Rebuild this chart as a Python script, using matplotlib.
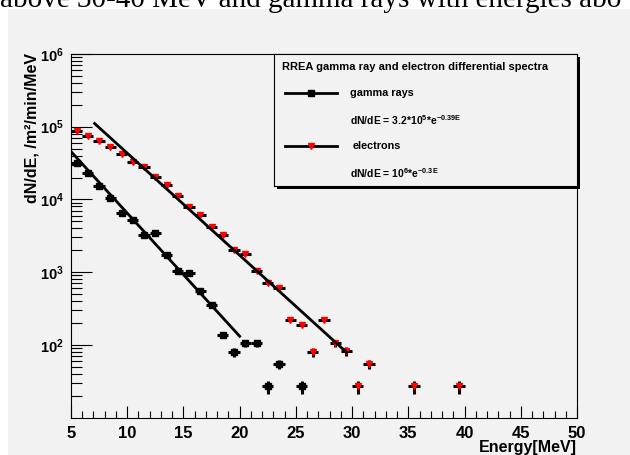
import numpy as np
import matplotlib
matplotlib.use("Agg")
import matplotlib.pyplot as plt
from matplotlib.patches import Rectangle
from matplotlib.ticker import FixedLocator, LogLocator, NullFormatter

plt.rcParams['font.family'] = ['Liberation Sans', 'DejaVu Sans']
plt.rcParams['font.weight'] = 'bold'
plt.rcParams['mathtext.fontset'] = 'custom'
plt.rcParams['mathtext.rm'] = 'Liberation Sans:bold'
plt.rcParams['mathtext.it'] = 'Liberation Sans:bold'
plt.rcParams['mathtext.bf'] = 'Liberation Sans:bold'
plt.rcParams['mathtext.default'] = 'bf'

# gamma ray spectrum (MeV, counts /m2/min/MeV)
gamma_E = [5.5, 6.5, 7.5, 8.5, 9.5, 10.5, 11.5, 12.5, 13.5, 14.5,
           15.5, 16.5, 17.5, 18.5, 19.5, 20.5, 21.5, 22.5, 23.5, 25.5]
gamma_N = [31500, 22900, 15300, 10600, 6460, 5220, 3220, 3430, 1700, 1050,
           968, 541, 349, 136, 80, 106, 106, 26.7, 54.3, 26.7]
gamma_err = [0, 0, 0, 0, 0, 0, 0, 0, 0, 0,
             0, 0, 0, 13, 11, 12, 12, 5.5, 8, 5.5]

# electron spectrum
elec_E = [5.5, 6.5, 7.5, 8.5, 9.5, 10.5, 11.5, 12.5, 13.5, 14.5,
          15.5, 16.5, 17.5, 18.5, 19.5, 20.5, 21.5, 22.5, 23.5, 24.5,
          25.5, 26.5, 27.5, 28.5, 29.5, 30.5, 31.5, 35.5, 39.5]
elec_N = [87500, 74700, 63700, 53200, 42200, 33100, 28200, 20600, 15700, 11300,
          7960, 6070, 4230, 3250, 2010, 1750, 1050, 705, 601, 216,
          188, 79.4, 216, 105, 81, 26.7, 54.3, 26.7, 26.7]
elec_err = [0, 0, 0, 0, 0, 0, 0, 0, 0, 0,
            0, 0, 0, 0, 0, 0, 0, 0, 0, 0,
            0, 11, 0, 12, 11, 5.5, 8, 5.5, 5.5]

# exponential fits: A * exp(-k E) over [E0, E1]
gamma_fit = (3.2e5, 0.39, 5.0, 20.0)
elec_fit = (1.1e6, 0.3235, 7.1, 29.5)

bg = '#f2f2f2'
W, H = 630, 455
fig = plt.figure(figsize=(6.3, 4.55), dpi=100, facecolor='white')
fig.patches.append(Rectangle((8 / W, 0), 1, 1 - 9 / H, transform=fig.transFigure,
                             facecolor=bg, edgecolor='none', zorder=-10))
fig.text(0, 1 - 7 / H, 'above 30-40 MeV and gamma rays with energies abo',
         family='Liberation Serif', weight='normal', size=21, va='baseline')

ax = fig.add_axes([71 / W, 1 - 417.5 / H, 506 / W, 363.5 / H])
ax.set_facecolor(bg)
ax.set_yscale('log')
ax.set_xlim(5, 50)
ax.set_ylim(10, 1e6)

for E, N, err, col, mk in [(gamma_E, gamma_N, gamma_err, 'black', 's'),
                            (elec_E, elec_N, elec_err, 'red', 'v')]:
    ax.errorbar(E, N, xerr=0.5, yerr=err, fmt=mk, color=col, ms=5,
                mec=col, ecolor='black', elinewidth=2.2, capsize=0, zorder=3)

for A, k, e0, e1 in [gamma_fit, elec_fit]:
    xs = np.linspace(e0, e1, 50)
    ax.plot(xs, A * np.exp(-k * xs), color='black', lw=2, zorder=4)

ax.xaxis.set_major_locator(FixedLocator(range(5, 51, 5)))
ax.xaxis.set_minor_locator(FixedLocator(range(5, 51)))
ax.yaxis.set_minor_locator(LogLocator(base=10, subs=np.arange(2, 10), numticks=50))
ax.yaxis.set_minor_formatter(NullFormatter())
ax.set_yticks([1e2, 1e3, 1e4, 1e5, 1e6])
ax.set_yticklabels([r'$10^{2}$', r'$10^{3}$', r'$10^{4}$', r'$10^{5}$', r'$10^{6}$'])
ax.tick_params(axis='x', which='major', direction='in', length=9, width=0.8,
               labelsize=12, pad=6)
ax.tick_params(axis='x', which='minor', direction='in', length=5, width=0.8)
ax.tick_params(axis='y', which='major', direction='in', length=15, width=0.8,
               labelsize=10.5, pad=5)
ax.tick_params(axis='y', which='minor', direction='in', length=8, width=0.8)
for s in ax.spines.values():
    s.set_linewidth(0.8)

fig.text(32 / W, 1 - 53 / H, 'dN/dE, /m²/min/MeV', rotation=90, ha='center',
         va='top', size=11.5)
fig.text(577 / W, 1 - 452 / H, 'Energy[MeV]', ha='right', va='baseline', size=11.5)

# legend box with ROOT-style shadow
fig.patches.append(Rectangle((277 / W, 1 - 188.5 / H), 303 / W, 132 / H,
                             transform=fig.transFigure, facecolor='black',
                             edgecolor='none', zorder=4))
lg = fig.add_axes([274 / W, 1 - 186 / H, 303 / W, 132 / H], zorder=5)
lg.set_facecolor(bg)
lg.set_xticks([])
lg.set_yticks([])
lg.set_xlim(0, 1)
lg.set_ylim(0, 1)
for s in lg.spines.values():
    s.set_linewidth(0.8)
lg.text(0.025, 0.904, 'RREA gamma ray and electron differential spectra',
        size=8, va='center')
lg.plot([0.036, 0.208], [0.707, 0.707], color='black', lw=2)
lg.plot([0.122], [0.707], 's', color='black', ms=5)
lg.text(0.251, 0.707, 'gamma rays', size=7.8, va='center')
lg.text(0.251, 0.5, r'dN/dE = 3.2*10$^{5}$*e$^{-0.39E}$', size=7.5, va='center')
lg.plot([0.036, 0.208], [0.303, 0.303], color='black', lw=2)
lg.plot([0.122], [0.303], 'v', color='red', ms=4)
lg.text(0.258, 0.303, 'electrons', size=7.8, va='center')
lg.text(0.251, 0.101, r'dN/dE = 10$^{6}$*e$^{-0.3E}$', size=7.5, va='center')

fig.savefig('out.png', dpi=100, facecolor=fig.get_facecolor())
